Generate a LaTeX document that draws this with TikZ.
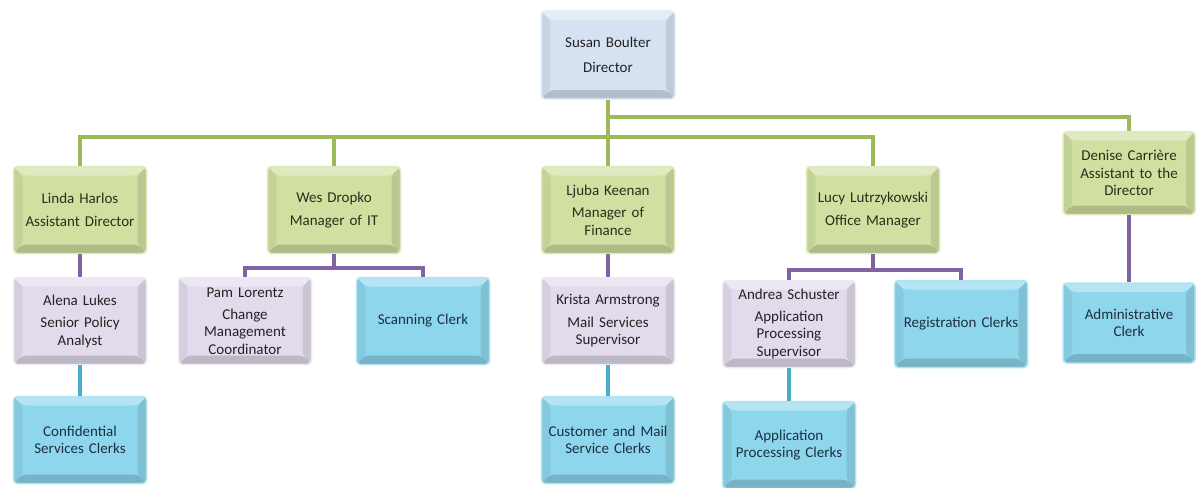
\documentclass[tikz,border=0pt]{standalone}
\usepackage{fontspec}
\setmainfont{Carlito}
\definecolor{gfill}{RGB}{208,224,160}
\definecolor{pfill}{RGB}{226,219,236}
\definecolor{bfill}{RGB}{142,214,236}
\definecolor{dfill}{RGB}{214,226,242}
\definecolor{gline}{RGB}{155,187,89}
\definecolor{pline}{RGB}{128,100,162}
\definecolor{cline}{RGB}{75,172,198}
\definecolor{tcol}{RGB}{35,35,35}
\definecolor{gtext}{RGB}{40,48,28}
\definecolor{btext}{RGB}{28,48,66}
\tikzset{
  box/.style={rounded corners=4pt, minimum width=133pt, minimum height=87pt,
    text width=131pt, align=center, inner sep=0pt, text=tcol,
    font=\fontsize{15}{17.5}\selectfont,
    path picture={
      \fill[white,opacity=0.35] (path picture bounding box.north west) -- (path picture bounding box.north east)
        -- ([xshift=-9pt,yshift=-9pt]path picture bounding box.north east) -- ([xshift=9pt,yshift=-9pt]path picture bounding box.north west) -- cycle;
      \fill[black,opacity=0.06] (path picture bounding box.north west) -- ([xshift=9pt,yshift=-9pt]path picture bounding box.north west)
        -- ([xshift=9pt,yshift=9pt]path picture bounding box.south west) -- (path picture bounding box.south west) -- cycle;
      \fill[black,opacity=0.10] (path picture bounding box.north east) -- ([xshift=-9pt,yshift=-9pt]path picture bounding box.north east)
        -- ([xshift=-9pt,yshift=9pt]path picture bounding box.south east) -- (path picture bounding box.south east) -- cycle;
      \fill[black,opacity=0.16] (path picture bounding box.south west) -- ([xshift=9pt,yshift=9pt]path picture bounding box.south west)
        -- ([xshift=-9pt,yshift=9pt]path picture bounding box.south east) -- (path picture bounding box.south east) -- cycle;
    }},
  gbox/.style={box, fill=gfill, draw=gfill!70!white, line width=1.5pt, text=gtext},
  pbox/.style={box, fill=pfill, draw=pfill!60!white, line width=1.5pt},
  bbox/.style={box, fill=bfill, draw=bfill!70!white, line width=1.5pt, text=btext},
  dbox/.style={box, fill=dfill, draw=dfill!60!white, line width=1.5pt},
  gconn/.style={draw=gline, line width=4pt},
  pconn/.style={draw=pline, line width=4pt},
  cconn/.style={draw=cline, line width=4pt},
}
\begin{document}
\begin{tikzpicture}[x=1pt,y=-1pt]
\useasboundingbox (0,0) rectangle (1201,487);
\node[dbox, minimum width=134pt, minimum height=88pt] (dir) at (608,55) {Susan Boulter\\[7pt]Director};
\node[gbox] (linda) at (80,210) {Linda Harlos\\[5pt]Assistant Director};
\node[gbox] (wes) at (334,210) {Wes Dropko\\[5pt]Manager of IT};
\node[gbox] (ljuba) at (608,210) {Ljuba Keenan\\[5pt]Manager of\\Finance};
\node[gbox] (lucy) at (873,210) {Lucy Lutrzykowski\\[5pt]Office Manager};
\node[gbox, minimum width=132pt, minimum height=83pt] (denise) at (1129,173) {Denise Carrière\\Assistant to the\\Director};
\node[pbox] (alena) at (80,321) {Alena Lukes\\[5pt]Senior Policy\\Analyst};
\node[pbox] (pam) at (245,321) {Pam Lorentz\\[4pt]Change\\Management\\Coordinator};
\node[bbox] (scan) at (423,321) {Scanning Clerk};
\node[pbox] (krista) at (608,321) {Krista Armstrong\\[5pt]Mail Services\\Supervisor};
\node[pbox] (andrea) at (789,324) {Andrea Schuster\\[4pt]Application\\Processing\\Supervisor};
\node[bbox] (reg) at (961,324) {Registration Clerks};
\node[bbox, minimum width=132pt, minimum height=80pt] (admin) at (1129,323) {Administrative\\Clerk};
\node[bbox] (conf) at (80,440) {Confidential\\Services Clerks};
\node[bbox] (cust) at (608,440) {Customer and Mail\\Service Clerks};
\node[bbox] (apc) at (789,445) {Application\\Processing Clerks};
\coordinate (bus) at (608,137);
\coordinate (bus2) at (608,117);
\coordinate (wb) at (334,268);
\coordinate (lb) at (873,270);
\path[gconn] (dir.south) -- (bus);
\path[gconn] (linda.north) |- (bus) -| (lucy.north);
\path[gconn] (wes.north) -- (wes.north |- bus);
\path[gconn] (ljuba.north) -- (bus);
\path[gconn] (bus2) -| (denise.north);
\path[pconn] (linda.south) -- (alena.north);
\path[pconn] (wes.south) -- (wb);
\path[pconn] (pam.north) |- (wb) -| (scan.north);
\path[pconn] (ljuba.south) -- (krista.north);
\path[pconn] (lucy.south) -- (lb);
\path[pconn] (andrea.north) |- (lb) -| (reg.north);
\path[pconn] (denise.south) -- (admin.north);
\path[cconn] (alena.south) -- (conf.north);
\path[cconn] (krista.south) -- (cust.north);
\path[cconn] (andrea.south) -- (apc.north);
\end{tikzpicture}
\end{document}
